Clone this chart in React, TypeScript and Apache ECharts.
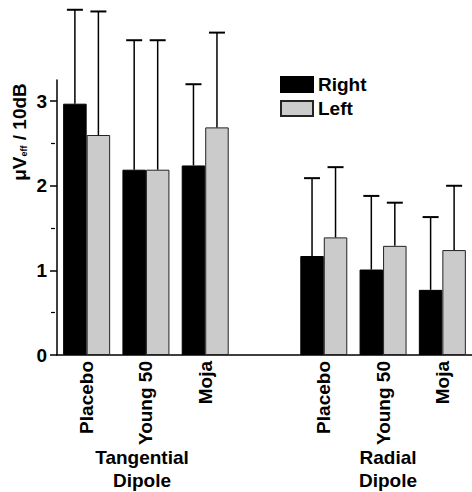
import React, { useEffect, useRef } from "react";
import * as echarts from "echarts";

const categories = ["Placebo", "Young 50", "Moja", "", "Placebo", "Young 50", "Moja"];
const rightMean = [2.97, 2.19, 2.24, null, 1.17, 1.01, 0.77];
const leftMean = [2.6, 2.19, 2.69, null, 1.39, 1.29, 1.24];
const rightSD = [1.11, 1.53, 0.96, null, 0.92, 0.87, 0.86];
const leftSD = [1.46, 1.53, 1.12, null, 0.83, 0.51, 0.76];
const majorTicks = [0, 1, 2, 3];
const minorTicks = [0.5, 1.5, 2.5];
const groupLabels = ["Tangential\nDipole", "Radial\nDipole"];

const FONT = "'Liberation Sans', Arial, sans-serif";
const FS = 19;
const BAR_W = 23.5;

function errSeries(name: string, means: (number | null)[], sds: (number | null)[], offset: number) {
  return {
    type: "custom",
    name,
    z: 5,
    clip: false,
    encode: { x: 0, y: [1, 2] },
    data: means.map((m, i) => (m == null ? [i, NaN, NaN] : [i, m, m + (sds[i] as number)])),
    renderItem: (params: any, api: any) => {
      const m = api.value(1);
      if (isNaN(m)) return null;
      const p0 = api.coord([api.value(0), m]);
      const p1 = api.coord([api.value(0), api.value(2)]);
      const x = p0[0] + offset;
      return {
        type: "group",
        children: [
          { type: "line", shape: { x1: x, y1: p0[1], x2: x, y2: p1[1] }, style: { stroke: "#000", lineWidth: 1.5 } },
          { type: "line", shape: { x1: x - 8, y1: p1[1], x2: x + 8, y2: p1[1] }, style: { stroke: "#000", lineWidth: 2 } },
        ],
      };
    },
  };
}

export default function App() {
  const ref = useRef<HTMLDivElement>(null);
  useEffect(() => {
    document.body.style.margin = "0";
    const chart = echarts.init(ref.current!, null, { renderer: "svg" });
    const gridW = 417;
    chart.setOption({
      animation: false,
      textStyle: { fontFamily: FONT },
      grid: { left: 57, top: 80, width: gridW, height: 275 },
      legend: {
        data: ["Right", "Left"],
        orient: "vertical",
        left: 280,
        top: 75,
        padding: 0,
        itemWidth: 32,
        itemHeight: 15,
        itemGap: 5,
        icon: "rect",
        textStyle: { fontSize: FS, fontWeight: "bold", color: "#000", fontFamily: FONT, lineHeight: 16 },
      },
      xAxis: {
        type: "category",
        data: categories,
        axisLine: { lineStyle: { color: "#000", width: 1.5 } },
        axisTick: { show: false },
        axisLabel: {
          interval: 0,
          rotate: 90,
          margin: 6,
          fontSize: FS,
          fontWeight: "bold",
          color: "#000",
          fontFamily: FONT,
        },
      },
      yAxis: [
        {
          type: "value",
          min: 0,
          max: 3.25,
          interval: 1,
          splitLine: { show: false },
          axisLine: { show: true, lineStyle: { color: "#000", width: 1.5 } },
          axisTick: { show: true, length: 7, customValues: majorTicks, lineStyle: { color: "#000", width: 1.5 } },
          axisLabel: {
            customValues: majorTicks,
            margin: 10,
            fontSize: FS,
            fontWeight: "bold",
            color: "#000",
            fontFamily: FONT,
          },
        },
        {
          type: "value",
          position: "right",
          offset: -gridW,
          min: 0,
          max: 3.25,
          interval: 0.5,
          splitLine: { show: false },
          axisLine: { show: false },
          axisTick: { show: true, inside: true, length: 4, customValues: minorTicks, lineStyle: { color: "#000", width: 1.2 } },
          axisLabel: { show: false },
        },
      ],
      series: [
        {
          type: "bar",
          name: "Right",
          data: rightMean.map((v) => (v == null ? "-" : v)),
          barWidth: BAR_W,
          barGap: "0%",
          itemStyle: { color: "#000", borderColor: "#000", borderWidth: 1 },
        },
        {
          type: "bar",
          name: "Left",
          data: leftMean.map((v) => (v == null ? "-" : v)),
          barWidth: BAR_W,
          barGap: "0%",
          itemStyle: { color: "#cbcbcb", borderColor: "#222", borderWidth: 1 },
        },
        errSeries("RightErr", rightMean, rightSD, -BAR_W / 2),
        errSeries("LeftErr", leftMean, leftSD, BAR_W / 2),
      ],
      graphic: [
        {
          type: "text",
          x: 19,
          y: 132,
          rotation: Math.PI / 2,
          style: {
            text: "{a|μV}{b|eff}{a| / 10dB}",
            align: "center",
            verticalAlign: "middle",
            fill: "#000",
            rich: {
              a: { fontSize: FS, fontWeight: "bold", fontFamily: FONT, fill: "#000" },
              b: { fontSize: 9, fontWeight: "bold", fontFamily: FONT, fill: "#000", verticalAlign: "bottom", padding: [6, 0, 0, 0] },
            },
          },
        },
        {
          type: "text",
          x: 142,
          y: 446,
          style: {
            text: groupLabels[0],
            align: "center",
            fontSize: FS,
            fontWeight: "bold",
            fontFamily: FONT,
            lineHeight: 23,
            fill: "#000",
          },
        },
        {
          type: "text",
          x: 388,
          y: 446,
          style: {
            text: groupLabels[1],
            align: "center",
            fontSize: FS,
            fontWeight: "bold",
            fontFamily: FONT,
            lineHeight: 23,
            fill: "#000",
          },
        },
      ],
    });
    return () => chart.dispose();
  }, []);
  return <div ref={ref} style={{ width: 472, height: 492 }} />;
}
